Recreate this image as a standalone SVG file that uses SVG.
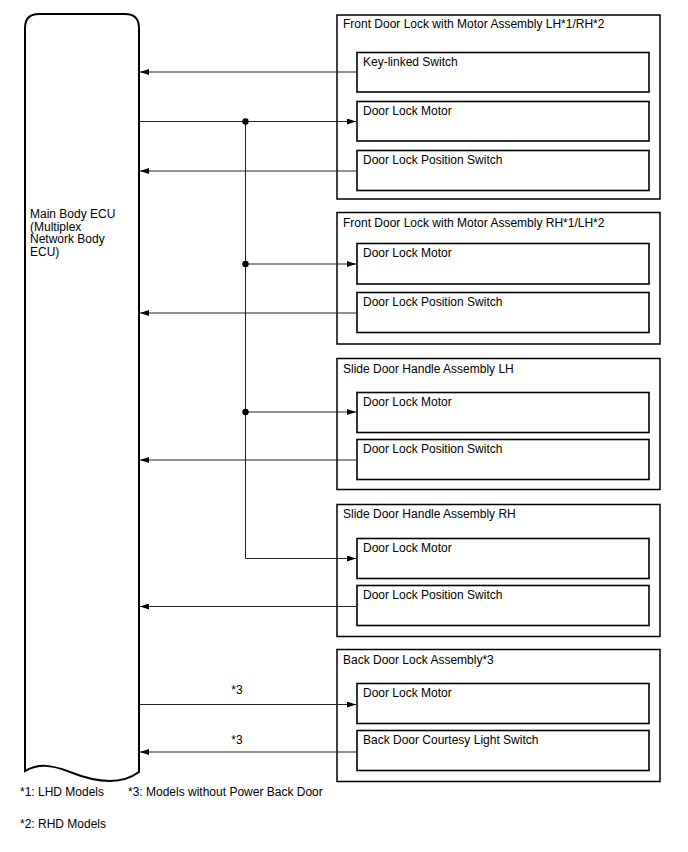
<svg xmlns="http://www.w3.org/2000/svg" width="688" height="852" viewBox="0 0 688 852">
<defs>
<marker id="ah" markerWidth="9" markerHeight="6" refX="9" refY="3" orient="auto" markerUnits="userSpaceOnUse">
<path d="M0,0 L9,3 L0,6 Z" fill="#000"/>
</marker>
<style>
text{font-family:"Liberation Sans",Arial,sans-serif;font-size:12px;fill:#000}
.outer{fill:#fff;stroke:#000;stroke-width:1.5}
.inner{fill:#fff;stroke:#000;stroke-width:1.6}
.ln{fill:none;stroke:#222;stroke-width:1}
</style>
</defs>
<rect width="688" height="852" fill="#fff"/>
<g id="ecu">
<path d="M25,771 L25,28 Q25,14 39,14 L125,14 Q139,14 139,28 L139,772 C120,786 95,782 70,772 C50,764 38,764 25,771 Z" fill="#fff" stroke="#000" stroke-width="2"/>
<text x="30" y="218">Main Body ECU</text>
<text x="30" y="230.5">(Multiplex</text>
<text x="30" y="243">Network Body</text>
<text x="30" y="255.5">ECU)</text>
</g>
<g id="front-lh">
<rect class="outer" x="337" y="15" width="323" height="184"/>
<text x="343" y="28">Front Door Lock with Motor Assembly LH*1/RH*2</text>
<rect class="inner" x="357" y="52.5" width="292" height="39.5"/>
<text x="363" y="66">Key-linked Switch</text>
<rect class="inner" x="357" y="101.5" width="292" height="39.5"/>
<text x="363" y="115">Door Lock Motor</text>
<rect class="inner" x="357" y="150.5" width="292" height="40"/>
<text x="363" y="164">Door Lock Position Switch</text>
</g>
<g id="front-rh">
<rect class="outer" x="337" y="212.5" width="323" height="131.5"/>
<text x="343" y="226.5">Front Door Lock with Motor Assembly RH*1/LH*2</text>
<rect class="inner" x="357" y="243.5" width="292" height="40.5"/>
<text x="363" y="257">Door Lock Motor</text>
<rect class="inner" x="357" y="292.5" width="292" height="40"/>
<text x="363" y="306">Door Lock Position Switch</text>
</g>
<g id="slide-lh">
<rect class="outer" x="337" y="358.5" width="323" height="131"/>
<text x="343" y="372.5">Slide Door Handle Assembly LH</text>
<rect class="inner" x="357" y="392.5" width="292" height="40"/>
<text x="363" y="406">Door Lock Motor</text>
<rect class="inner" x="357" y="439.5" width="292" height="40"/>
<text x="363" y="453">Door Lock Position Switch</text>
</g>
<g id="slide-rh">
<rect class="outer" x="337" y="504.5" width="323" height="132"/>
<text x="343" y="518">Slide Door Handle Assembly RH</text>
<rect class="inner" x="357" y="538.5" width="292" height="40"/>
<text x="363" y="552">Door Lock Motor</text>
<rect class="inner" x="357" y="585.5" width="292" height="40"/>
<text x="363" y="599">Door Lock Position Switch</text>
</g>
<g id="back-door">
<rect class="outer" x="337" y="649.5" width="323" height="132"/>
<text x="343" y="663.5">Back Door Lock Assembly*3</text>
<rect class="inner" x="357" y="683.5" width="292" height="40"/>
<text x="363" y="697">Door Lock Motor</text>
<rect class="inner" x="357" y="730.5" width="292" height="40"/>
<text x="363" y="744">Back Door Courtesy Light Switch</text>
</g>
<g id="connectors">
<line class="ln" x1="357" y1="72" x2="140" y2="72" marker-end="url(#ah)"/>
<line class="ln" x1="140" y1="121.5" x2="356" y2="121.5" marker-end="url(#ah)"/>
<line class="ln" x1="357" y1="171" x2="140" y2="171" marker-end="url(#ah)"/>
<path class="ln" d="M245.5,121.5 V558.5 H356" marker-end="url(#ah)"/>
<line class="ln" x1="245.5" y1="264" x2="356" y2="264" marker-end="url(#ah)"/>
<line class="ln" x1="357" y1="313" x2="140" y2="313" marker-end="url(#ah)"/>
<line class="ln" x1="245.5" y1="412" x2="356" y2="412" marker-end="url(#ah)"/>
<line class="ln" x1="357" y1="460" x2="140" y2="460" marker-end="url(#ah)"/>
<line class="ln" x1="357" y1="606.5" x2="140" y2="606.5" marker-end="url(#ah)"/>
<line class="ln" x1="140" y1="704.5" x2="356" y2="704.5" marker-end="url(#ah)"/>
<line class="ln" x1="357" y1="752" x2="140" y2="752" marker-end="url(#ah)"/>
<circle cx="245.5" cy="121.5" r="3.2" fill="#000"/>
<circle cx="245.5" cy="264" r="3.2" fill="#000"/>
<circle cx="245.5" cy="412" r="3.2" fill="#000"/>
<text x="237" y="694" text-anchor="middle">*3</text>
<text x="237" y="743.5" text-anchor="middle">*3</text>
</g>
<g id="notes">
<text x="20" y="796">*1: LHD Models</text>
<text x="128" y="796">*3: Models without Power Back Door</text>
<text x="20" y="828">*2: RHD Models</text>
</g>
</svg>
